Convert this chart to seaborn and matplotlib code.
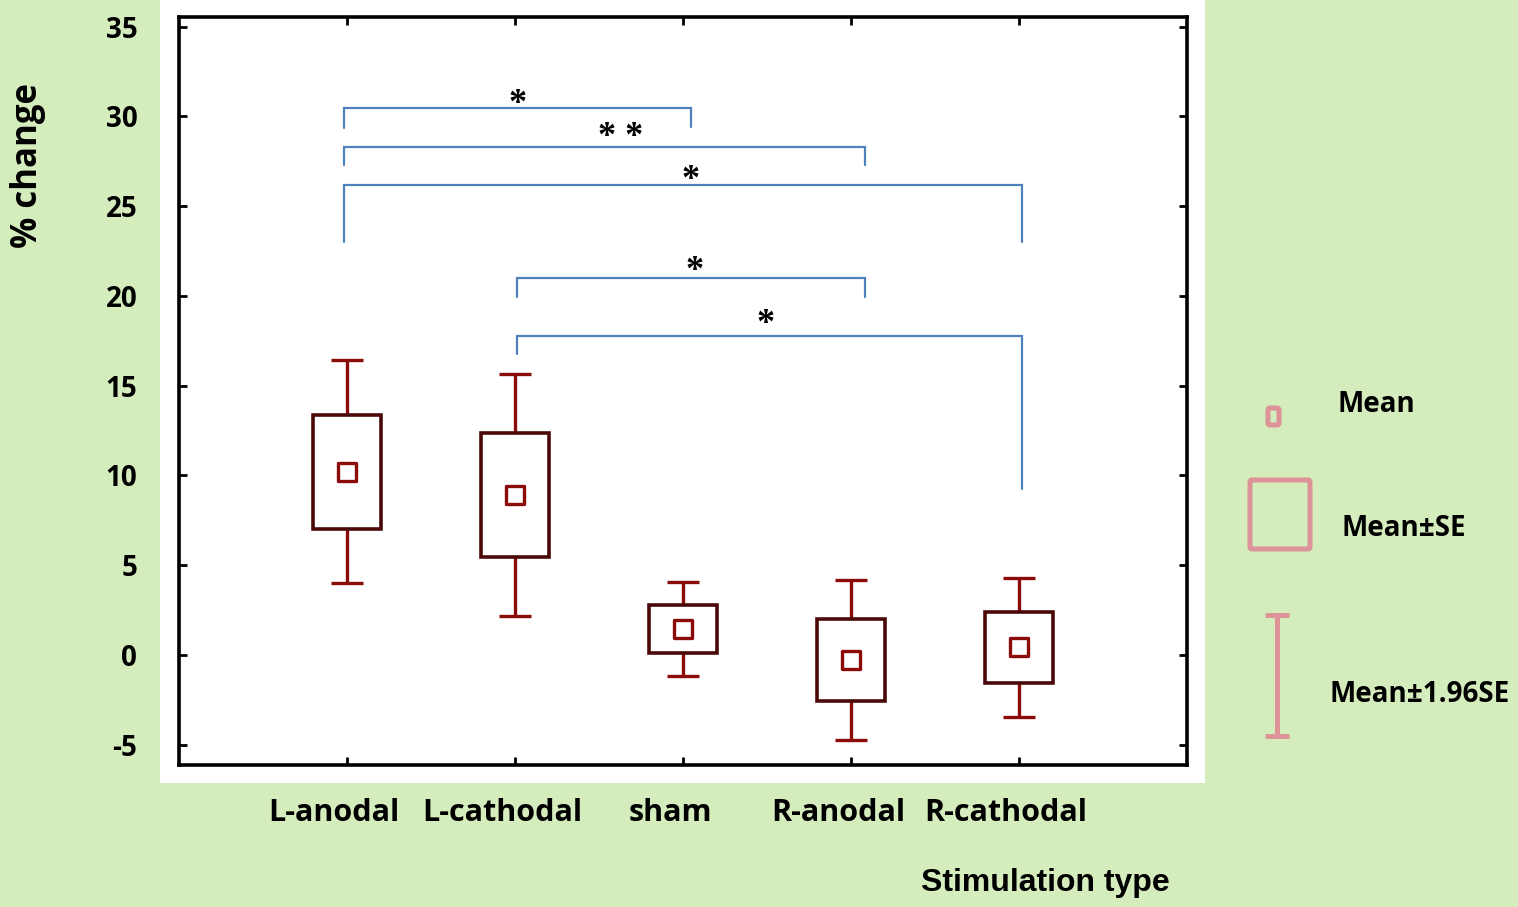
import matplotlib
matplotlib.use("Agg")
import matplotlib.pyplot as plt
import matplotlib.patches as mpatches
from matplotlib.transforms import ScaledTranslation
import seaborn as sns
import numpy as np
import pandas as pd

# ---- data -------------------------------------------------------------
categories = ["L-anodal", "L-cathodal", "sham", "R-anodal", "R-cathodal"]
means = [10.2, 8.9, 1.45, -0.28, 0.42]
se = [3.17, 3.44, 1.33, 2.28, 1.97]

# significance brackets
br_x_left = [-0.02, -0.02, -0.02, 1.01, 1.01]
br_x_right = [2.05, 3.085, 4.02, 3.085, 4.02]
br_y = [30.47, 28.3, 26.18, 21.0, 17.77]
br_y_left = [29.36, 27.3, 23.0, 19.94, 16.77]
br_y_right = [29.4, 27.3, 23.0, 19.94, 9.25]
br_labels = ["*", "* *", "*", "*", "*"]
br_label_x = [1.016, 1.63, 2.045, 2.07, 2.49]
br_label_y = [31.1, 29.25, 26.85, 21.8, 18.8]

yticks = [-5, 0, 5, 10, 15, 20, 25, 30, 35]

df = pd.DataFrame({"stim": categories, "mean": means, "se": se})
df["pos"] = np.arange(len(df))

# ---- style ------------------------------------------------------------
sns.set_style("white")
plt.rcParams["font.family"] = ["Open Sans", "DejaVu Sans"]
plt.rcParams["text.color"] = "black"
plt.rcParams["axes.unicode_minus"] = False

bg = "#d5ecbd"
box_edge = "#4a0808"
whisk = "#8b0a0a"
bracket_col = "#4f81bd"
legend_col = "#dc9499"

fig = plt.figure(figsize=(15.18, 9.07), dpi=100, facecolor=bg)
# white panel behind the plotting area
fig.patches.append(mpatches.Rectangle((0.1054, 0.1367), 0.6884, 0.8633,
                                      transform=fig.transFigure,
                                      facecolor="white", edgecolor="none", zorder=-5))

ax = fig.add_axes([0.1179, 0.1566, 0.6640, 0.8247])
ax.set_facecolor("white")

# whiskers: mean +/- 1.96 SE
ax.errorbar(df["pos"], df["mean"], yerr=1.96 * df["se"], fmt="none",
            ecolor=whisk, elinewidth=2.4, capsize=11.5, capthick=2.4, zorder=2)
# boxes: mean +/- SE
ax.bar(df["pos"], 2 * df["se"], bottom=df["mean"] - df["se"], width=0.4,
       facecolor="white", edgecolor=box_edge, linewidth=2.6, zorder=3)
# mean markers
sns.scatterplot(data=df, x="pos", y="mean", marker="s", s=170,
                facecolor="white", edgecolor=whisk, linewidth=2.4,
                zorder=4, ax=ax, legend=False)

# significance brackets
for xl, xr, yb, yl, yr in zip(br_x_left, br_x_right, br_y, br_y_left, br_y_right):
    ax.plot([xl, xl, xr, xr], [yl, yb, yb, yr], color=bracket_col, lw=1.6,
            solid_joinstyle="miter", zorder=1)
# asterisk glyph sits high in its em box, so anchor on the baseline
star_shift = ScaledTranslation(0, -16 / 100, fig.dpi_scale_trans)
for lab, lx, ly in zip(br_labels, br_label_x, br_label_y):
    ax.text(lx, ly, lab, ha="center", va="baseline", fontsize=26,
            family=["Liberation Serif"], fontweight="bold", color="black",
            transform=ax.transData + star_shift)

ax.set_xlim(-1, 5)
ax.set_ylim(-6.13, 35.54)
ax.set_xticks(df["pos"])
ax.set_xticklabels(categories)
ax.set_yticks(yticks)
ax.set_xlabel("")
ax.set_ylabel("")

for side in ["top", "bottom", "left", "right"]:
    ax.spines[side].set_visible(True)
    ax.spines[side].set_color("black")
    ax.spines[side].set_linewidth(2.6)

ax.tick_params(axis="both", direction="in", length=6, width=2, color="black",
               top=True, right=True, bottom=True, left=True,
               labelcolor="black")
ax.tick_params(axis="x", pad=24, labelsize=22)
ax.tick_params(axis="y", pad=30, labelsize=20)
for t in ax.get_xticklabels() + ax.get_yticklabels():
    t.set_fontweight("bold")

# shift category labels slightly left
off = ScaledTranslation(-13 / 100, 0, fig.dpi_scale_trans)
for t in ax.get_xticklabels():
    t.set_transform(t.get_transform() + off)

# axis titles
fig.text(0.0184, 0.818, "% change", rotation=90, ha="center", va="center",
         fontsize=25, fontweight="bold")
fig.text(0.6885, 0.027, "Stimulation type", ha="center", va="center",
         fontsize=23, fontweight="bold", family=["Liberation Sans"])

# ---- key on the figure background (pixel coordinates, y downward) ------
key = fig.add_axes([0, 0, 1, 1], facecolor="none")
key.set_xlim(0, 1518)
key.set_ylim(907, 0)
key.axis("off")

key.add_patch(mpatches.FancyBboxPatch((1268, 408), 11, 17,
                                      boxstyle="round,pad=0,rounding_size=2",
                                      facecolor="none", edgecolor=legend_col, lw=3.6))
key.add_patch(mpatches.FancyBboxPatch((1250, 480), 60, 69,
                                      boxstyle="round,pad=0,rounding_size=2",
                                      facecolor="none", edgecolor=legend_col, lw=3.6))
key.plot([1277, 1277], [615, 736], color=legend_col, lw=3.6, solid_capstyle="butt")
key.plot([1265, 1289], [615, 615], color=legend_col, lw=3.6, solid_capstyle="butt")
key.plot([1265, 1289], [736, 736], color=legend_col, lw=3.6, solid_capstyle="butt")

key.text(1338, 404, "Mean", ha="left", va="center", fontsize=20, fontweight="bold")
key.text(1342, 528, "Mean\u00b1SE", ha="left", va="center", fontsize=20, fontweight="bold")
key.text(1330, 694, "Mean\u00b11.96SE", ha="left", va="center", fontsize=20, fontweight="bold")

fig.savefig("out.png", dpi=100, facecolor=bg)
